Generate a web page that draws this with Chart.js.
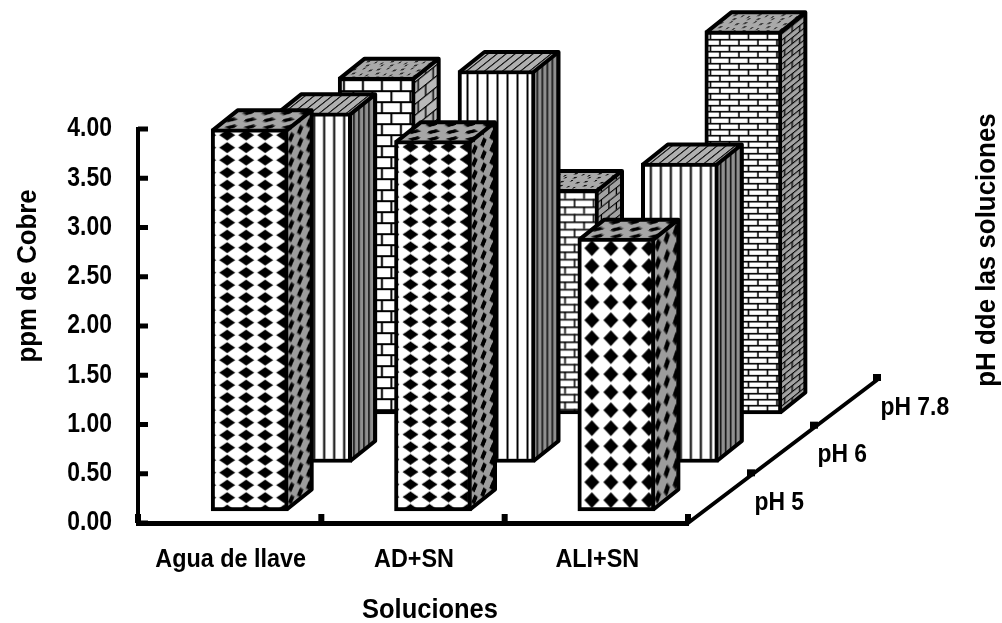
<!DOCTYPE html>
<html>
<head>
<meta charset="utf-8">
<style>html,body{margin:0;padding:0;background:#fff}canvas{display:block}</style>
<script src="https://cdn.jsdelivr.net/npm/chart.js@4"></script>
</head>
<body>
<canvas id="c" width="1002" height="623"></canvas>
<script>
// Copper content per solution at three pH levels
const categories = ['Agua de llave', 'AD+SN', 'ALI+SN'];
const seriesLabels = ['pH 5', 'pH 6', 'pH 7.8'];
const valuesPh5 = [3.88, 3.76, 2.77];
const valuesPh6 = [3.55, 3.98, 3.04];
const valuesPh78 = [3.42, 2.28, 3.89];
const yAxisMax = 4;
const yTickStep = 0.5;
const yTitle = 'ppm de Cobre';
const xTitle = 'Soluciones';
const depthTitle = 'pH dde las soluciones';

const FONT = '"Liberation Sans",Arial,sans-serif';
const BAR_W = 77;
const DEPTH = {dx: 25, dy: -20};      // box depth of one bar
const ROW = {x0: 20, y0: -12, dx: 63.5, dy: -48.5}; // floor offset of each row

function tile(w, h, paint) {
  const cv = document.createElement('canvas');
  cv.width = w; cv.height = h;
  const g = cv.getContext('2d');
  paint(g, w, h);
  return g.createPattern(cv, 'repeat');
}
function diamond(g, x, y, rx, ry, bend) {
  g.beginPath();
  g.moveTo(x - rx, y);
  g.quadraticCurveTo(x - rx * bend, y - ry * bend, x, y - ry);
  g.quadraticCurveTo(x + rx * bend, y - ry * bend, x + rx, y);
  g.quadraticCurveTo(x + rx * bend, y + ry * bend, x, y + ry);
  g.quadraticCurveTo(x - rx * bend, y + ry * bend, x - rx, y);
  g.fill();
}
function fillBg(g, w, h, col) { g.fillStyle = col; g.fillRect(0, 0, w, h); }

function diamondFront(rowH, rows) {
  const h = Math.round(rowH * rows);
  const big = rowH > 15;
  return tile(19, h, (g, w) => {
    fillBg(g, w, h, '#fff');
    g.fillStyle = '#000';
    for (let r = 0; r < rows; r++) {
      diamond(g, 9.5, (r + 0.5) * h / rows, big ? 7.5 : 8, big ? 8 : 5.5, 0.48);
    }
  });
}
function diamondSide(rowH, rows) {
  const h = Math.round(rowH * rows);
  return tile(9, h, (g, w) => {
    fillBg(g, w, h, '#9c9c9c');
    g.fillStyle = '#000';
    for (let r = 0; r < rows; r++) diamond(g, 4.5, (r + 0.5) * h / rows, 3.2, rowH > 15 ? 7 : 5.2, 0.5);
  });
}
const diamondTop = () => tile(19, 14, (g, w, h) => {
  fillBg(g, w, h, '#a6a6a6');
  g.fillStyle = '#000';
  diamond(g, 5, 3.5, 7, 2.6, 0.45);
  diamond(g, 14.5, 10.5, 7, 2.6, 0.45);
});
const stripeFront = () => tile(10, 4, (g, w, h) => {
  fillBg(g, w, h, '#fff');
  g.fillStyle = '#000';
  g.fillRect(7.5, 0, 2, h);
});
const stripeSide = () => tile(5, 4, (g, w, h) => {
  fillBg(g, w, h, '#8f8f8f');
  g.fillStyle = '#111';
  g.fillRect(3, 0, 1.6, h);
});
const stripeTop = () => tile(9, 4, (g, w, h) => {
  fillBg(g, w, h, '#b0b0b0');
  g.fillStyle = '#111';
  g.fillRect(5, 0, 1.8, h);
});
function brick(w, rowH, bg, lw) {
  const h = Math.round(rowH * 2);
  return tile(w, h, (g) => {
    fillBg(g, w, h, bg);
    g.fillStyle = '#000';
    const half = h / 2;
    g.fillRect(0, 0, w, lw);
    g.fillRect(0, half, w, lw);
    g.fillRect(w * 0.25, 0, lw, half);
    g.fillRect(w * 0.75, half, lw, half);
  });
}
const brickTop = () => tile(24, 12, (g, w, h) => {
  fillBg(g, w, h, '#a9a9a9');
  g.fillStyle = '#111';
  [[2, 2, 3], [11, 1, 2], [19, 3, 3], [6, 6, 3], [15, 7, 2], [22, 8, 2], [1, 10, 2], [10, 10, 3]]
    .forEach(([x, y, l]) => g.fillRect(x, y, l, 1.5));
});

// Per-bar fills: row 0 diamonds, row 1 stripes, row 2 bricks
const rowFills = [
  [12.5, 12.5, 18.3].map((r, i) => ({
    front: diamondFront(r, i < 2 ? 2 : 1), side: diamondSide(r, i < 2 ? 2 : 1), top: diamondTop(),
    phase: i < 2 ? [-12.5, 0] : [-14.5, 1]
  })),
  [0, 1, 2].map(() => ({front: stripeFront(), side: stripeSide(), top: stripeTop(), phase: [1, 0]})),
  [11, 7.3, 6.2].map((r) => ({
    front: brick(19, r, '#fff', r > 8 ? 2 : 1.6),
    side: brick(15, r, r > 8 ? '#b8b8b8' : '#a2a2a2', r > 8 ? 1.5 : 1.3),
    top: brickTop(), phase: [0, 2]
  }))
];

function rowShift(i) {
  return {x: ROW.x0 + ROW.dx * i, y: ROW.y0 + ROW.dy * i};
}

// Bold labels set slightly condensed, as the chart's lettering is narrow and tall
function label(ctx, text, x, y, size, squeeze, align, angle) {
  ctx.save();
  ctx.translate(x, y);
  if (angle) ctx.rotate(angle);
  ctx.scale(squeeze, 1);
  ctx.font = 'bold ' + size + 'px ' + FONT;
  ctx.textAlign = align;
  ctx.textBaseline = 'middle';
  ctx.fillText(text, 0, 0);
  ctx.restore();
}

const depthBars = {
  id: 'depthBars',
  beforeDatasetDraw(chart, args) {
    const ctx = chart.ctx, s = rowShift(args.index);
    ctx.save();
    ctx.translate(s.x, s.y);
    args.meta.data.forEach((bar, j) => {
      const fills = rowFills[args.index][j];
      const l = bar.x - bar.width / 2 + 1.5, r = bar.x + bar.width / 2 - 1.5;
      const t = bar.y + 1.5, b = bar.base - 1.5;
      const {dx, dy} = DEPTH;
      // right-hand face
      ctx.save();
      ctx.beginPath();
      ctx.moveTo(r, t); ctx.lineTo(r + dx, t + dy); ctx.lineTo(r + dx, b + dy); ctx.lineTo(r, b); ctx.closePath();
      ctx.clip();
      ctx.transform(1, dy / dx, 0, 1, r, b);
      ctx.fillStyle = fills.side;
      ctx.fillRect(-2, -(b - t) - 30, dx + 4, b - t + 60);
      ctx.restore();
      // upper face
      ctx.save();
      ctx.beginPath();
      ctx.moveTo(l, t); ctx.lineTo(l + dx, t + dy); ctx.lineTo(r + dx, t + dy); ctx.lineTo(r, t); ctx.closePath();
      ctx.clip();
      ctx.transform(1, 0, dx / dy, 1, l, t);
      ctx.fillStyle = fills.top;
      ctx.fillRect(-4, dy - 2, r - l + 8, -dy + 4);
      ctx.restore();
      // outlines of both faces
      ctx.lineWidth = 4;
      ctx.lineJoin = 'round';
      ctx.strokeStyle = '#000';
      ctx.beginPath();
      ctx.moveTo(l, t); ctx.lineTo(l + dx, t + dy); ctx.lineTo(r + dx, t + dy);
      ctx.lineTo(r + dx, b + dy); ctx.lineTo(r, b);
      ctx.moveTo(r, t); ctx.lineTo(r + dx, t + dy);
      ctx.stroke();
    });
  },
  afterDatasetDraw(chart) {
    chart.ctx.restore();
  },
  afterDraw(chart) {
    const ctx = chart.ctx, area = chart.chartArea;
    const {x: xs, y: ys} = chart.scales;
    ctx.save();
    ctx.fillStyle = '#000';
    ctx.strokeStyle = '#000';
    // inward tick stubs and tick labels on the value axis
    ys.ticks.forEach((tick, i) => {
      const py = ys.getPixelForTick(i);
      ctx.fillRect(area.left, py - 2.5, 10, 5);
      label(ctx, tick.label, 112, py, 27, 0.85, 'right');
    });
    // category axis
    const step = (area.right - area.left) / categories.length;
    for (let k = 0; k <= categories.length; k++) {
      ctx.fillRect(area.left + k * step - 3, area.bottom - 9, 6, 9);
    }
    xs.ticks.forEach((tick, i) => {
      label(ctx, tick.label, xs.getPixelForTick(i) + 1, 560, 26, 0.9, 'center');
    });
    // receding axis for the pH rows
    const endX = area.right + 189, endY = area.bottom - 143;
    ctx.lineWidth = 4;
    ctx.lineCap = 'round';
    ctx.beginPath();
    ctx.moveTo(area.right, area.bottom);
    ctx.lineTo(endX, endY);
    ctx.stroke();
    chart.data.datasets.forEach((ds, i) => {
      const n = chart.data.datasets.length;
      const px = area.right + (endX - area.right) * (i + 1) / n;
      const py = area.bottom + (endY - area.bottom) * (i + 1) / n;
      ctx.fillRect(px - 4, py - 6, 8, 7);
      const mx = area.right + (endX - area.right) * (i + 0.5) / n;
      const my = area.bottom + (endY - area.bottom) * (i + 0.5) / n;
      label(ctx, ds.label, mx + 35, my + 3.5, 26, 0.88, 'left');
    });
    // axis titles
    label(ctx, xTitle, 430, 610, 28, 0.91, 'center');
    label(ctx, yTitle, 28, 276, 28, 0.92, 'center', -Math.PI / 2);
    label(ctx, depthTitle, 987, 250, 28, 0.925, 'center', -Math.PI / 2);
    ctx.restore();
  }
};

function faceFill(row) {
  return (c) => {
    if (c.dataIndex === undefined || !c.chart.scales.x) return '#fff';
    const f = rowFills[row][c.dataIndex];
    const left = c.chart.scales.x.getPixelForTick(c.dataIndex) - BAR_W / 2;
    const top = c.chart.scales.y.getPixelForValue(c.parsed ? c.parsed.y : c.raw);
    f.front.setTransform(new DOMMatrix().translate(left + f.phase[0], top + f.phase[1]));
    return f.front;
  };
}
const rowValues = [valuesPh5, valuesPh6, valuesPh78];

new Chart(document.getElementById('c'), {
  type: 'bar',
  plugins: [depthBars],
  data: {
    labels: categories,
    datasets: seriesLabels.map((label, i) => ({
      label,
      data: rowValues[i],
      backgroundColor: faceFill(i),
      borderColor: '#000',
      borderWidth: 4,
      borderSkipped: false,
      barThickness: BAR_W,
      grouped: false,
      clip: false
    }))
  },
  options: {
    responsive: false,
    animation: false,
    events: [],
    layout: {padding: {left: 0, right: 314, top: 129, bottom: 0}},
    plugins: {legend: {display: false}, tooltip: {enabled: false}, title: {display: false}},
    scales: {
      x: {
        grid: {display: false},
        border: {color: '#000', width: 5},
        ticks: {display: false},
        afterFit(s) { s.height = 100; }
      },
      y: {
        min: 0,
        max: yAxisMax,
        grid: {display: false},
        border: {color: '#000', width: 4},
        ticks: {display: false, stepSize: yTickStep, callback: (v) => v.toFixed(2)},
        afterFit(s) { s.width = 138; }
      }
    }
  }
});
</script>
</body>
</html>
